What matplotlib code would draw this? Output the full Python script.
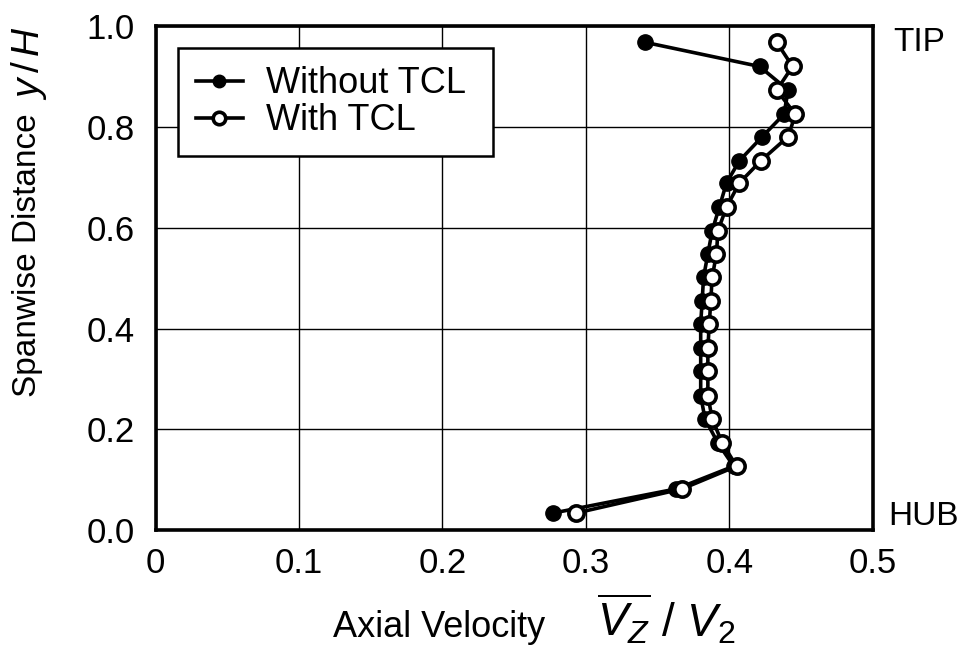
import matplotlib.pyplot as plt
import numpy as np

plt.rcParams['font.family'] = ['Liberation Sans', 'DejaVu Sans']
plt.rcParams['mathtext.fontset'] = 'custom'
plt.rcParams['mathtext.rm'] = 'Liberation Sans'
plt.rcParams['mathtext.it'] = 'Liberation Sans:italic'

# spanwise positions y/H
span = [0.968, 0.920, 0.873, 0.825, 0.781, 0.733, 0.689, 0.641, 0.594, 0.548,
        0.502, 0.454, 0.410, 0.361, 0.315, 0.267, 0.221, 0.173, 0.127, 0.082, 0.034]
# axial velocity Vz/V2
without_tcl = [0.341, 0.421, 0.441, 0.438, 0.423, 0.407, 0.398, 0.393, 0.388, 0.385,
               0.382, 0.381, 0.380, 0.380, 0.380, 0.380, 0.383, 0.392, 0.403, 0.363, 0.277]
with_tcl = [0.433, 0.444, 0.433, 0.446, 0.441, 0.422, 0.407, 0.398, 0.392, 0.391,
            0.388, 0.387, 0.386, 0.385, 0.385, 0.385, 0.388, 0.395, 0.405, 0.367, 0.293]

W, H = 972, 653
fig = plt.figure(figsize=(W / 100, H / 100), dpi=100)
ax = fig.add_axes([0.160, 0.188, 0.738, 0.772])

ax.plot(without_tcl, span, '-o', color='black', lw=2.6, ms=11,
        mfc='black', mec='black', label='Without TCL', zorder=3)
ax.plot(with_tcl, span, '-o', color='black', lw=2.6, ms=11, mew=2.6,
        mfc='white', mec='black', label='With TCL', zorder=4)

ax.set_xlim(0, 0.5)
ax.set_ylim(0, 1.0)
ax.set_xticks(np.arange(0, 0.51, 0.1))
ax.set_xticklabels(['0', '0.1', '0.2', '0.3', '0.4', '0.5'])
ax.set_yticks(np.arange(0, 1.01, 0.2))
ax.set_yticklabels(['0.0', '0.2', '0.4', '0.6', '0.8', '1.0'])
ax.tick_params(length=0, labelsize=25)
ax.tick_params(axis='y', pad=15)
ax.tick_params(axis='x', pad=12)
ax.grid(True, color='black', lw=1.0)
for s in ax.spines.values():
    s.set_linewidth(2.6)

# axis titles (the quantity symbols are set a little larger, as in the original)
fig.text(333 / W, 1 - 637 / H, 'Axial Velocity', fontsize=26, ha='left', va='baseline')
fig.text(597 / W, 1 - 637 / H, r'$\overline{V_Z}\,\,/\,\,V_2$', fontsize=33,
         ha='left', va='baseline')
fig.text(28 / W, 1 - 397 / H, 'Spanwise Distance', fontsize=24, rotation=90,
         ha='center', va='bottom')
fig.text(29 / W, 1 - 100 / H, r'$y\,/\,H$', fontsize=28, rotation=90,
         ha='center', va='bottom')

ax.text(1.028, 0.968, 'TIP', transform=ax.transAxes, fontsize=24, va='center', ha='left')
ax.text(1.022, 0.028, 'HUB', transform=ax.transAxes, fontsize=24, va='center', ha='left')

leg = ax.legend(loc='upper left', bbox_to_anchor=(0.031, 0.956 - 0.3, 0.440, 0.3),
                mode='expand', fontsize=26, fancybox=False, framealpha=1,
                edgecolor='black', handlelength=1.3, borderpad=0.5,
                labelspacing=0.05, handletextpad=0.64, borderaxespad=0)
leg.get_frame().set_linewidth(1.8)
for h in leg.legend_handles:
    h.set_markersize(9)

fig.savefig('out.png', dpi=100)
